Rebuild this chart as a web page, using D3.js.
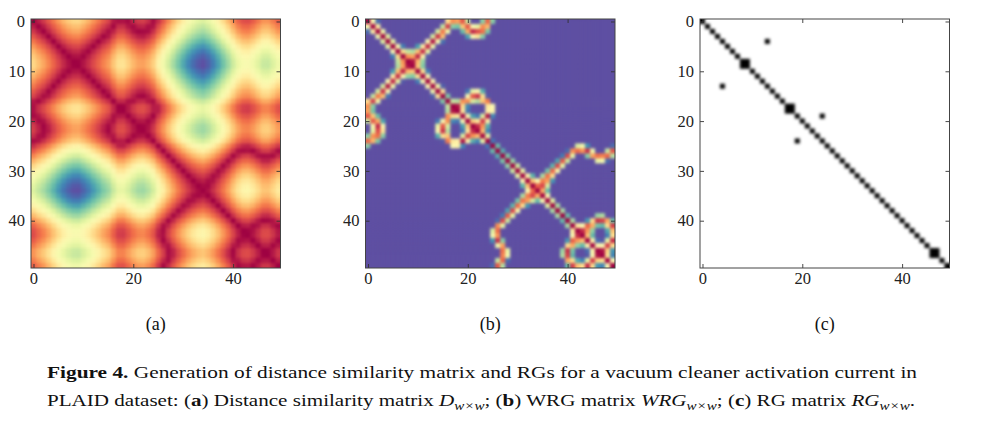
<!DOCTYPE html>
<html><head><meta charset="utf-8">
<script src="https://cdn.jsdelivr.net/npm/d3@7/dist/d3.min.js"></script>
<style>body{margin:0;background:#fff}svg{display:block}</style>
</head><body>
<svg id="fig" width="981" height="430"></svg>
<script>
// Normalised current samples of the activation window (w = 50), read from the matrices
const signal = [0.610, 0.660, 0.705, 0.760, 0.820, 0.878, 0.930, 0.970, 0.996, 0.999,
                0.964, 0.923, 0.872, 0.823, 0.768, 0.726, 0.650, 0.585, 0.582, 0.625,
                0.675, 0.711, 0.718, 0.685, 0.628, 0.535, 0.455, 0.372, 0.295, 0.222,
                0.158, 0.100, 0.052, 0.018, 0.000, 0.030, 0.080, 0.140, 0.210, 0.280,
                0.360, 0.430, 0.474, 0.481, 0.447, 0.400, 0.352, 0.349, 0.390, 0.440];
const epsWRG = 0.10;     // threshold of the weighted recurrence graph
const epsRG = 0.0042;    // threshold of the binary recurrence graph
const xTickValues = [0, 20, 40];
const yTickValues = [0, 10, 20, 30, 40];
const panelLabels = ["(a)", "(b)", "(c)"];

const svg = d3.select("#fig");
const n = signal.length;
const idx = d3.range(n);
const dist = (i, j) => Math.abs(signal[i] - signal[j]);
const cells = idx.flatMap(r => idx.map(c => ({r, c, d: dist(r, c)})));
const dMax = d3.max(cells, d => d.d);

const W = 249.5, H = 249, plotTop = 19;
const panels = [
  {left: 31, color: d3.scaleSequential(d3.interpolateSpectral).domain([0, dMax])},
  {left: 365.5, color: d3.scaleSequential(d3.interpolateSpectral).domain([0, epsWRG]).clamp(true)},
  {left: 700, color: d3.scaleThreshold().domain([epsRG]).range(["#000000", "#ffffff"])}
];

const font = "'Liberation Serif', 'DejaVu Serif', serif";
const defs = svg.append("defs");

panels.forEach((p, k) => {
  const xs = d3.scaleLinear().domain([-0.5, n - 0.5]).range([p.left, p.left + W]);
  const ys = d3.scaleLinear().domain([-0.5, n - 0.5]).range([plotTop, plotTop + H]);

  // slight smoothing of the raster, as in the published figure
  const f = defs.append("filter").attr("id", "smooth" + k)
    .attr("filterUnits", "userSpaceOnUse")
    .attr("x", p.left).attr("y", plotTop).attr("width", W).attr("height", H)
    .attr("color-interpolation-filters", "sRGB");
  f.append("feGaussianBlur").attr("in", "SourceGraphic").attr("stdDeviation", 1.5).attr("result", "bl");
  f.append("feComponentTransfer").attr("in", "bl")
    .append("feFuncA").attr("type", "linear").attr("slope", 40).attr("intercept", 0);

  const g = svg.append("g");
  g.append("g").attr("filter", `url(#smooth${k})`)
    .selectAll("rect").data(cells).join("rect")
    .attr("x", d => xs(d.c - 0.5)).attr("y", d => ys(d.r - 0.5))
    .attr("width", xs(1) - xs(0) + 0.3).attr("height", ys(1) - ys(0) + 0.3)
    .attr("fill", d => p.color(d.d));

  const tickStyle = sel => {
    sel.select(".domain").remove();
    sel.selectAll(".tick line").attr("stroke", "#333").attr("stroke-width", 0.9);
    sel.selectAll("text").attr("font-family", font).attr("font-size", 16.5).attr("fill", "#222");
  };
  g.append("g").attr("transform", `translate(0,${plotTop + H})`)
    .call(d3.axisBottom(xs).tickValues(xTickValues).tickSizeInner(-4).tickSizeOuter(0).tickPadding(4))
    .call(tickStyle);
  g.append("g").attr("transform", `translate(0,${plotTop})`)
    .call(d3.axisTop(xs).tickValues(xTickValues).tickSizeInner(-4).tickSizeOuter(0).tickFormat(""))
    .call(tickStyle);
  g.append("g").attr("transform", `translate(${p.left},0)`)
    .call(d3.axisLeft(ys).tickValues(yTickValues).tickSizeInner(-4).tickSizeOuter(0).tickPadding(6))
    .call(tickStyle);
  g.append("g").attr("transform", `translate(${p.left + W},0)`)
    .call(d3.axisRight(ys).tickValues(yTickValues).tickSizeInner(-4).tickSizeOuter(0).tickFormat(""))
    .call(tickStyle);
  g.append("rect").attr("x", p.left).attr("y", plotTop).attr("width", W).attr("height", H)
    .attr("fill", "none").attr("stroke", "#444").attr("stroke-width", 1);

  svg.append("text").attr("x", p.left + W / 2).attr("y", 329.5)
    .attr("text-anchor", "middle").attr("font-family", font).attr("font-size", 18)
    .attr("fill", "#111").text(panelLabels[k]);
});

// caption
const cap1 = svg.append("text").attr("x", 47).attr("y", 378)
  .attr("font-family", font).attr("font-size", 17.5).attr("fill", "#111")
  .attr("textLength", 870).attr("lengthAdjust", "spacingAndGlyphs");
cap1.append("tspan").attr("font-weight", "bold").text("Figure 4.");
cap1.append("tspan").text(" Generation of distance similarity matrix and RGs for a vacuum cleaner activation current in");

const cap2 = svg.append("text").attr("x", 47).attr("y", 406)
  .attr("font-family", font).attr("font-size", 17.5).attr("fill", "#111")
  .attr("textLength", 868).attr("lengthAdjust", "spacingAndGlyphs");
const parts = [
  ["PLAID dataset: (", ""], ["a", "b"], [") Distance similarity matrix ", ""], ["D", "i"], ["w×w", "s"],
  ["; (", ""], ["b", "b"], [") WRG matrix ", ""], ["WRG", "i"], ["w×w", "s"],
  ["; (", ""], ["c", "b"], [") RG matrix ", ""], ["RG", "i"], ["w×w", "s"], [".", ""]
];
let shifted = false;
parts.forEach(([t, s]) => {
  const ts = cap2.append("tspan").text(t);
  if (s === "b") ts.attr("font-weight", "bold");
  if (s === "i") ts.attr("font-style", "italic");
  if (s === "s") { ts.attr("font-style", "italic").attr("font-size", 12.5).attr("dy", 4); shifted = true; }
  else if (shifted) { ts.attr("dy", -4); shifted = false; }
});
</script>
</body></html>
